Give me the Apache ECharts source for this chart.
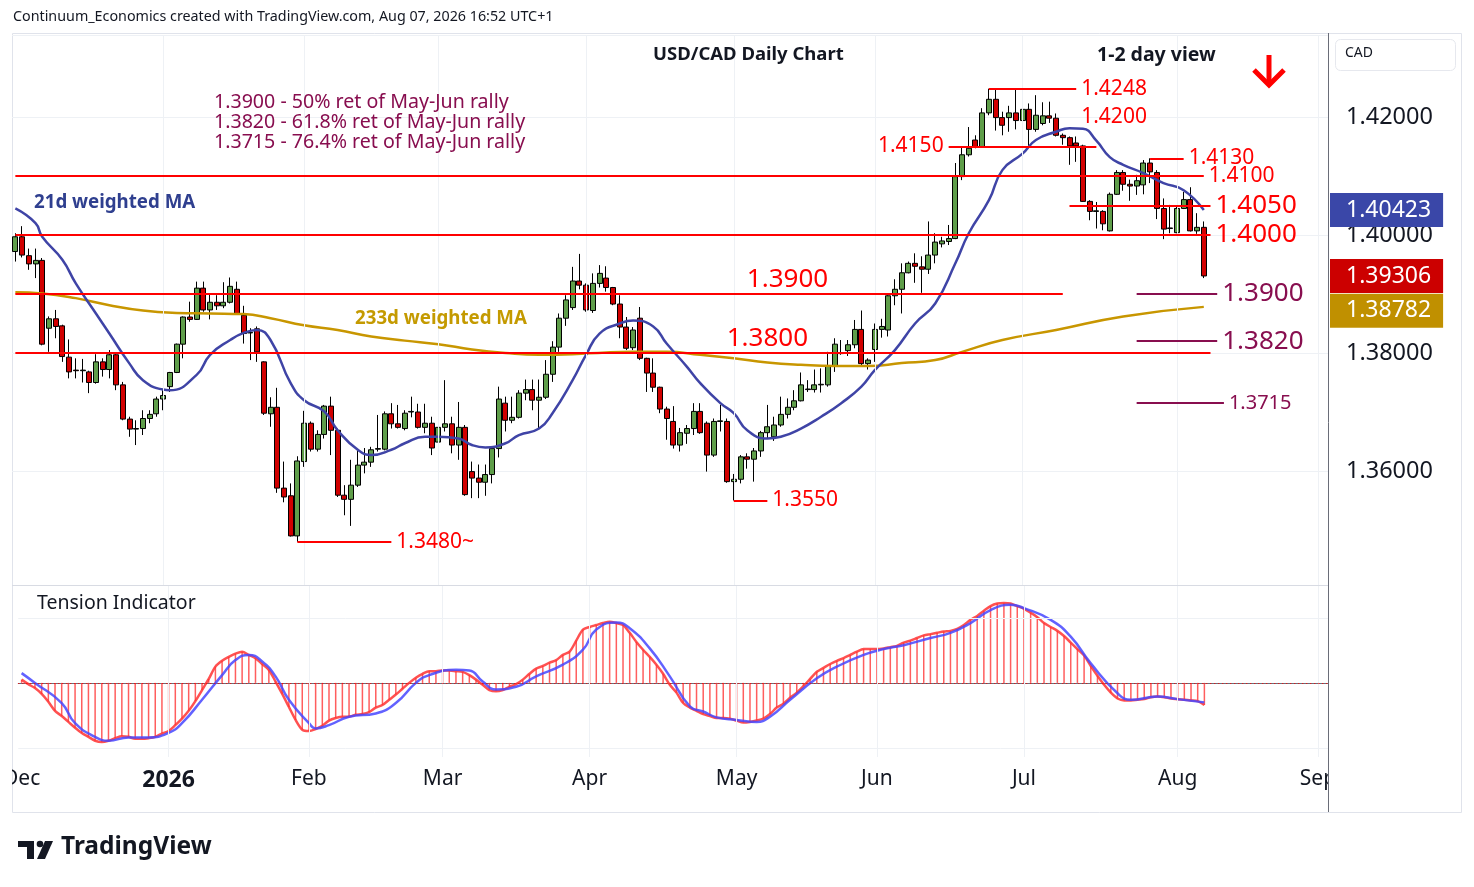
<!DOCTYPE html>
<html>
<head>
<meta charset="utf-8">
<title>USD/CAD Daily Chart</title>
<script src="https://cdn.jsdelivr.net/npm/echarts@6.0.0/dist/echarts.min.js"></script>
<style>
  html, body { margin: 0; padding: 0; background: #fff; }
  #chart { width: 1474px; height: 887px; }
</style>
</head>
<body>
<div id="chart"></div>
<script>
// values

var firstDay = '2025-12-01';
var closedDays = ['2025-12-25', '2026-01-01'];
var futureBars = 18;

// [open, close, low, high], one row per trading day
var ohlc = [
  [1.3972, 1.3997, 1.3955, 1.4003], [1.3997, 1.3966, 1.3962, 1.4015], [1.3965, 1.3951, 1.3941, 1.3977],
  [1.3951, 1.3957, 1.3927, 1.3977], [1.3957, 1.3815, 1.3813, 1.3961], [1.3842, 1.3858, 1.3802, 1.3862],
  [1.3858, 1.3845, 1.3825, 1.3873], [1.3846, 1.3794, 1.3785, 1.3848], [1.3793, 1.3768, 1.3757, 1.3823],
  [1.3771, 1.3770, 1.3757, 1.3791], [1.3770, 1.3771, 1.3750, 1.3790], [1.3768, 1.3750, 1.3732, 1.3770],
  [1.3750, 1.3785, 1.3748, 1.3798], [1.3785, 1.3772, 1.3760, 1.3791], [1.3772, 1.3797, 1.3757, 1.3805],
  [1.3797, 1.3746, 1.3737, 1.3800], [1.3746, 1.3688, 1.3686, 1.3751], [1.3688, 1.3671, 1.3658, 1.3692],
  [1.3672, 1.3671, 1.3644, 1.3686], [1.3672, 1.3689, 1.3661, 1.3703], [1.3689, 1.3696, 1.3681, 1.3703],
  [1.3697, 1.3722, 1.3692, 1.3726], [1.3722, 1.3728, 1.3703, 1.3737], [1.3743, 1.3767, 1.3734, 1.3768],
  [1.3767, 1.3815, 1.3766, 1.3816], [1.3815, 1.3861, 1.3791, 1.3862], [1.3861, 1.3857, 1.3853, 1.3887],
  [1.3857, 1.3910, 1.3856, 1.3921], [1.3910, 1.3873, 1.3870, 1.3921], [1.3873, 1.3886, 1.3857, 1.3899],
  [1.3886, 1.3880, 1.3873, 1.3898], [1.3880, 1.3886, 1.3876, 1.3920], [1.3886, 1.3913, 1.3884, 1.3928],
  [1.3908, 1.3867, 1.3866, 1.3921], [1.3864, 1.3833, 1.3816, 1.3880], [1.3834, 1.3835, 1.3788, 1.3842],
  [1.3841, 1.3802, 1.3785, 1.3845], [1.3785, 1.3698, 1.3695, 1.3786], [1.3697, 1.3708, 1.3675, 1.3725],
  [1.3708, 1.3571, 1.3563, 1.3741], [1.3571, 1.3556, 1.3547, 1.3616], [1.3558, 1.3490, 1.3489, 1.3579],
  [1.3490, 1.3617, 1.3480, 1.3625], [1.3616, 1.3681, 1.3607, 1.3702], [1.3681, 1.3637, 1.3633, 1.3684],
  [1.3637, 1.3662, 1.3633, 1.3669], [1.3662, 1.3710, 1.3655, 1.3712], [1.3710, 1.3669, 1.3627, 1.3726],
  [1.3669, 1.3559, 1.3556, 1.3672], [1.3559, 1.3552, 1.3525, 1.3576], [1.3552, 1.3576, 1.3507, 1.3619],
  [1.3576, 1.3610, 1.3573, 1.3637], [1.3610, 1.3615, 1.3596, 1.3639], [1.3615, 1.3636, 1.3607, 1.3641],
  [1.3637, 1.3638, 1.3633, 1.3695], [1.3637, 1.3697, 1.3635, 1.3701], [1.3697, 1.3680, 1.3672, 1.3715],
  [1.3680, 1.3674, 1.3672, 1.3712], [1.3672, 1.3698, 1.3669, 1.3703], [1.3700, 1.3701, 1.3691, 1.3726],
  [1.3700, 1.3674, 1.3672, 1.3714], [1.3674, 1.3681, 1.3664, 1.3714], [1.3681, 1.3639, 1.3627, 1.3692],
  [1.3649, 1.3674, 1.3633, 1.3720], [1.3674, 1.3680, 1.3667, 1.3754], [1.3680, 1.3644, 1.3630, 1.3692],
  [1.3644, 1.3674, 1.3619, 1.3717], [1.3674, 1.3560, 1.3558, 1.3678], [1.3599, 1.3588, 1.3554, 1.3616],
  [1.3588, 1.3581, 1.3554, 1.3611], [1.3581, 1.3594, 1.3558, 1.3611], [1.3594, 1.3638, 1.3579, 1.3639],
  [1.3638, 1.3722, 1.3623, 1.3743], [1.3715, 1.3686, 1.3667, 1.3726], [1.3686, 1.3691, 1.3681, 1.3726],
  [1.3691, 1.3732, 1.3689, 1.3737], [1.3732, 1.3738, 1.3720, 1.3755], [1.3738, 1.3720, 1.3703, 1.3755],
  [1.3720, 1.3725, 1.3672, 1.3755], [1.3725, 1.3764, 1.3722, 1.3788], [1.3764, 1.3810, 1.3751, 1.3820],
  [1.3810, 1.3859, 1.3802, 1.3867], [1.3859, 1.3890, 1.3846, 1.3898], [1.3877, 1.3922, 1.3873, 1.3946],
  [1.3922, 1.3915, 1.3908, 1.3968], [1.3915, 1.3873, 1.3870, 1.3918], [1.3872, 1.3918, 1.3868, 1.3935],
  [1.3918, 1.3935, 1.3911, 1.3949], [1.3927, 1.3911, 1.3904, 1.3947], [1.3911, 1.3883, 1.3881, 1.3912],
  [1.3883, 1.3844, 1.3825, 1.3898], [1.3844, 1.3808, 1.3805, 1.3861], [1.3809, 1.3839, 1.3805, 1.3844],
  [1.3859, 1.3791, 1.3788, 1.3878], [1.3791, 1.3766, 1.3734, 1.3792], [1.3766, 1.3742, 1.3734, 1.3791],
  [1.3742, 1.3705, 1.3698, 1.3743], [1.3705, 1.3689, 1.3653, 1.3709], [1.3684, 1.3644, 1.3638, 1.3710],
  [1.3644, 1.3665, 1.3633, 1.3673], [1.3664, 1.3672, 1.3646, 1.3678], [1.3672, 1.3701, 1.3661, 1.3715],
  [1.3701, 1.3665, 1.3663, 1.3715], [1.3681, 1.3627, 1.3599, 1.3684], [1.3627, 1.3684, 1.3624, 1.3689],
  [1.3684, 1.3685, 1.3667, 1.3712], [1.3684, 1.3582, 1.3580, 1.3689], [1.3582, 1.3586, 1.3550, 1.3595],
  [1.3586, 1.3624, 1.3579, 1.3627], [1.3624, 1.3620, 1.3604, 1.3630], [1.3620, 1.3634, 1.3582, 1.3639],
  [1.3634, 1.3665, 1.3624, 1.3668], [1.3665, 1.3675, 1.3655, 1.3712], [1.3658, 1.3678, 1.3651, 1.3692],
  [1.3678, 1.3696, 1.3675, 1.3726], [1.3696, 1.3708, 1.3689, 1.3723], [1.3708, 1.3719, 1.3703, 1.3737],
  [1.3719, 1.3746, 1.3718, 1.3767], [1.3738, 1.3739, 1.3734, 1.3754], [1.3738, 1.3746, 1.3733, 1.3772],
  [1.3746, 1.3747, 1.3733, 1.3774], [1.3746, 1.3778, 1.3743, 1.3802], [1.3778, 1.3815, 1.3768, 1.3825],
  [1.3799, 1.3800, 1.3797, 1.3822], [1.3804, 1.3814, 1.3795, 1.3822], [1.3814, 1.3840, 1.3808, 1.3856],
  [1.3840, 1.3782, 1.3778, 1.3872], [1.3782, 1.3788, 1.3772, 1.3791], [1.3806, 1.3840, 1.3785, 1.3850],
  [1.3840, 1.3845, 1.3826, 1.3858], [1.3839, 1.3897, 1.3828, 1.3898], [1.3897, 1.3908, 1.3881, 1.3925],
  [1.3908, 1.3936, 1.3867, 1.3952], [1.3936, 1.3952, 1.3935, 1.3955], [1.3952, 1.3947, 1.3919, 1.3969],
  [1.3946, 1.3942, 1.3902, 1.3964], [1.3942, 1.3966, 1.3934, 1.4023], [1.3966, 1.3988, 1.3952, 1.4003],
  [1.3985, 1.3990, 1.3979, 1.3997], [1.3989, 1.3994, 1.3983, 1.4017], [1.3994, 1.4099, 1.3993, 1.4122],
  [1.4099, 1.4136, 1.4093, 1.4150], [1.4136, 1.4147, 1.4133, 1.4183], [1.4161, 1.4150, 1.4147, 1.4169],
  [1.4150, 1.4207, 1.4149, 1.4215], [1.4207, 1.4230, 1.4203, 1.4248], [1.4230, 1.4199, 1.4177, 1.4247],
  [1.4199, 1.4186, 1.4169, 1.4209], [1.4199, 1.4207, 1.4175, 1.4219], [1.4207, 1.4194, 1.4179, 1.4247],
  [1.4194, 1.4213, 1.4190, 1.4223], [1.4213, 1.4179, 1.4151, 1.4223], [1.4179, 1.4203, 1.4175, 1.4237],
  [1.4189, 1.4202, 1.4186, 1.4225], [1.4202, 1.4198, 1.4190, 1.4226], [1.4198, 1.4169, 1.4167, 1.4206],
  [1.4169, 1.4165, 1.4153, 1.4172], [1.4165, 1.4151, 1.4119, 1.4167], [1.4156, 1.4151, 1.4124, 1.4167],
  [1.4151, 1.4057, 1.4056, 1.4153], [1.4057, 1.4040, 1.4025, 1.4059], [1.4040, 1.4041, 1.4011, 1.4056],
  [1.4040, 1.4019, 1.4008, 1.4042], [1.4007, 1.4069, 1.4006, 1.4072], [1.4069, 1.4106, 1.4068, 1.4110],
  [1.4106, 1.4086, 1.4075, 1.4110], [1.4086, 1.4083, 1.4058, 1.4094], [1.4083, 1.4092, 1.4068, 1.4102],
  [1.4085, 1.4122, 1.4069, 1.4127], [1.4122, 1.4107, 1.4088, 1.4130], [1.4106, 1.4045, 1.4027, 1.4110],
  [1.4045, 1.4010, 1.3993, 1.4062], [1.4011, 1.4012, 1.4003, 1.4051], [1.4004, 1.4045, 1.4003, 1.4048],
  [1.4045, 1.4060, 1.4044, 1.4073], [1.4060, 1.4007, 1.4006, 1.4081], [1.4007, 1.4013, 1.4002, 1.4037],
  [1.4013, 1.39306, 1.3927, 1.4023]
];

// [bar index, value]
var wma21 = [
  [0, 1.4045], [3, 1.4020], [4, 1.3997], [7, 1.3958], [9, 1.3918], [12, 1.3867], [14, 1.3833],
  [17, 1.3782], [19, 1.3754], [22, 1.3738], [23, 1.3737], [27, 1.3763], [29, 1.3797], [32, 1.3822],
  [34, 1.3834], [36, 1.3839], [38, 1.3822], [41, 1.3749], [43, 1.3720], [46, 1.3701], [48, 1.3669],
  [51, 1.3636], [53, 1.3627], [56, 1.3636], [58, 1.3647], [61, 1.3658], [63, 1.3658], [66, 1.3655],
  [68, 1.3644], [70, 1.3640], [73, 1.3647], [75, 1.3661], [78, 1.3672], [80, 1.3698], [83, 1.3754],
  [85, 1.3797], [87, 1.3833], [90, 1.3850], [92, 1.3855], [95, 1.3845], [97, 1.3816], [100, 1.3777],
  [102, 1.3749], [105, 1.3715], [107, 1.3698], [109, 1.3669], [112, 1.3655], [114, 1.3658], [117, 1.3672],
  [120, 1.3692], [123, 1.3715], [126, 1.3743], [128, 1.3771], [131, 1.3805], [134, 1.3850], [137, 1.3884],
  [140, 1.3952], [142, 1.4003], [145, 1.4059], [147, 1.4110], [150, 1.4138], [152, 1.4161], [155, 1.4175],
  [157, 1.4181], [159, 1.4180], [161, 1.4160], [163, 1.4132], [165, 1.4119], [168, 1.4105], [171, 1.4088],
  [174, 1.4076], [177, 1.40423]
];
var wma233 = [
  [0, 1.3903], [4, 1.3901], [9, 1.3893], [14, 1.3881], [19, 1.3872], [24, 1.3868], [29, 1.3867],
  [34, 1.3866], [38, 1.3859], [43, 1.3847], [48, 1.3839], [53, 1.3828], [58, 1.3821], [63, 1.3815],
  [68, 1.3806], [73, 1.3800], [78, 1.3797], [83, 1.3798], [88, 1.3801], [92, 1.3802], [97, 1.3802],
  [102, 1.3797], [107, 1.3791], [112, 1.3784], [117, 1.3780], [122, 1.3778], [127, 1.3778], [132, 1.3783],
  [137, 1.3788], [141, 1.3802], [147, 1.3822], [155, 1.3839], [165, 1.3862], [177, 1.38782]
];

// Tension Indicator: fast line (one value per bar) and slow line ([bar index, value])
var tensionFast = [
  0.05, -0.02, -0.08, -0.17, -0.29, -0.43, -0.51, -0.60, -0.69, -0.77,
  -0.83, -0.89, -0.91, -0.89, -0.85, -0.82, -0.83, -0.86, -0.86, -0.85,
  -0.83, -0.78, -0.74, -0.65, -0.55, -0.43, -0.28, -0.11, 0.06, 0.25,
  0.34, 0.40, 0.45, 0.48, 0.43, 0.38, 0.29, 0.20, 0.02, -0.17,
  -0.37, -0.57, -0.72, -0.74, -0.71, -0.66, -0.58, -0.54, -0.52, -0.52,
  -0.49, -0.48, -0.45, -0.38, -0.34, -0.26, -0.18, -0.09, 0.00, 0.08,
  0.14, 0.18, 0.18, 0.19, 0.19, 0.18, 0.17, 0.12, 0.05, -0.03,
  -0.11, -0.13, -0.11, -0.06, -0.02, 0.05, 0.14, 0.22, 0.26, 0.31,
  0.35, 0.43, 0.48, 0.65, 0.82, 0.86, 0.89, 0.92, 0.94, 0.92,
  0.89, 0.77, 0.63, 0.51, 0.40, 0.28, 0.14, -0.03, -0.15, -0.31,
  -0.38, -0.43, -0.48, -0.51, -0.54, -0.54, -0.55, -0.58, -0.61, -0.60,
  -0.58, -0.55, -0.48, -0.38, -0.32, -0.23, -0.15, -0.05, 0.06, 0.17,
  0.23, 0.29, 0.34, 0.38, 0.43, 0.48, 0.52, 0.52, 0.52, 0.53,
  0.55, 0.57, 0.62, 0.65, 0.69, 0.73, 0.75, 0.77, 0.79, 0.80,
  0.83, 0.89, 0.97, 1.03, 1.11, 1.18, 1.22, 1.23, 1.22, 1.18,
  1.14, 1.08, 1.01, 0.92, 0.86, 0.80, 0.72, 0.62, 0.52, 0.42,
  0.26, 0.11, -0.03, -0.15, -0.24, -0.27, -0.27, -0.26, -0.25, -0.22,
  -0.21, -0.22, -0.24, -0.25, -0.26, -0.27, -0.28, -0.34
];
var tensionSlow = [
  [0, 0.15], [2, 0.00], [6, -0.31], [8, -0.62], [11, -0.83], [13, -0.89], [16, -0.84], [19, -0.84],
  [22, -0.77], [24, -0.62], [27, -0.26], [30, 0.12], [32, 0.35], [34, 0.43], [36, 0.33], [38, 0.10],
  [40, -0.26], [43, -0.62], [44, -0.70], [46, -0.65], [49, -0.52], [53, -0.47], [56, -0.31], [59, 0.00],
  [61, 0.12], [65, 0.20], [67, 0.19], [69, 0.02], [71, -0.10], [74, -0.06], [77, 0.10], [81, 0.28],
  [84, 0.51], [86, 0.82], [89, 0.93], [91, 0.84], [94, 0.53], [97, 0.10], [100, -0.36], [102, -0.44],
  [104, -0.53], [107, -0.57], [110, -0.60], [112, -0.52], [115, -0.26], [119, 0.07], [122, 0.25],
  [126, 0.43], [129, 0.52], [132, 0.58], [136, 0.69], [139, 0.77], [142, 0.92], [145, 1.12], [148, 1.20],
  [150, 1.15], [154, 0.97], [157, 0.71], [160, 0.30], [164, -0.16], [166, -0.26], [170, -0.21],
  [173, -0.25], [177, -0.30]
];

var levelPrices = [1.4248, 1.4200, 1.4150, 1.4130, 1.4100, 1.4050, 1.4000, 1.3900, 1.3800, 1.3550, 1.3480];
var retraceLevels = [1.3900, 1.3820, 1.3715];
var retraceShares = ['50%', '61.8%', '76.4%'];

// ---------------------------------------------------------------

var FONT = "'Noto Sans', 'DejaVu Sans', sans-serif";
var RED = '#ff0000';
var PURPLE = '#880e4f';
var INK = '#131722';
var GRID = '#eef1f5';
var CLEAR = 'rgba(0,0,0,0)';

function pad(n) { return n < 10 ? '0' + n : '' + n; }
function ymd(d) { return d.getUTCFullYear() + '-' + pad(d.getUTCMonth() + 1) + '-' + pad(d.getUTCDate()); }

// trading-day categories (weekdays, market holidays left out), plus empty days ahead
var dates = [];
var day = new Date(firstDay + 'T00:00:00Z');
while (dates.length < ohlc.length + futureBars) {
  var wd = day.getUTCDay();
  var s = ymd(day);
  if (wd !== 0 && wd !== 6 && closedDays.indexOf(s) < 0) dates.push(s);
  day.setUTCDate(day.getUTCDate() + 1);
}

var monthStart = {};
dates.forEach(function (s, i) {
  if (i === 0 || s.slice(0, 7) !== dates[i - 1].slice(0, 7)) monthStart[i] = true;
});
var monthNames = ['Jan', 'Feb', 'Mar', 'Apr', 'May', 'Jun', 'Jul', 'Aug', 'Sep', 'Oct', 'Nov', 'Dec'];

var monthLines = [];
Object.keys(monthStart).forEach(function (k) {
  if (+k > 0) monthLines.push({ xAxis: dates[+k] });
});

var lastClose = ohlc[ohlc.length - 1][1];
var lastWma21 = wma21[wma21.length - 1][1];
var lastWma233 = wma233[wma233.length - 1][1];

// horizontal level segment with its label
function seg(price, from, to, opts) {
  var color = opts.color || RED;
  return [
    {
      coord: [from, price],
      lineStyle: { color: opts.hidden ? CLEAR : color, width: 2, type: 'solid' },
      label: {
        show: !!opts.pos,
        position: opts.pos || 'end',
        distance: 5,
        formatter: opts.text || price.toFixed(4),
        color: color,
        fontSize: opts.size || 21,
        fontFamily: FONT
      }
    },
    { coord: [to, price] }
  ];
}

var L = levelPrices;
var levelLines = [
  seg(L[0], 145, 158, { pos: 'end' }),
  seg(L[1], 145, 158, { pos: 'end', hidden: true }),
  seg(L[2], 139, 161, { pos: 'start' }),
  seg(L[3], 169, 174, { pos: 'end' }),
  seg(L[4], 0, 177, { pos: 'end' }),
  seg(L[5], 157, 178, { pos: 'end', size: 26 }),
  seg(L[6], 0, 178, { pos: 'end', size: 26 }),
  seg(L[7], 0, 156, {}),
  seg(L[8], 0, 178, {}),
  seg(L[9], 107, 112, { pos: 'end' }),
  seg(L[10], 42, 56, { pos: 'end', text: L[10].toFixed(4) + '~' }),
  seg(retraceLevels[0], 167, 179, { pos: 'end', size: 26, color: PURPLE }),
  seg(retraceLevels[1], 167, 179, { pos: 'end', size: 26, color: PURPLE }),
  seg(retraceLevels[2], 167, 180, { pos: 'end', size: 20, color: PURPLE })
];

function midLabel(price, idx) {
  return {
    coord: [idx, price],
    symbol: 'circle',
    symbolSize: 1,
    itemStyle: { color: CLEAR },
    label: {
      show: true, position: 'top', distance: 1,
      formatter: price.toFixed(4), color: RED, fontSize: 26, fontFamily: FONT
    }
  };
}

// coloured value tag on the price scale
function priceTag(value, bg, nudge) {
  return {
    silent: true,
    precision: 5,
    symbol: ['none', 'none'],
    lineStyle: { color: CLEAR, width: 1 },
    label: {
      show: true, position: 'end', distance: 2,
      offset: [0, nudge || 0],
      formatter: value.toFixed(5),
      color: '#ffffff', backgroundColor: bg,
      padding: [6, 12, 4, 16], fontSize: 23, lineHeight: 24, fontFamily: FONT
    },
    data: [{ yAxis: value }]
  };
}

var notes = retraceLevels.map(function (p, i) {
  return {
    type: 'text', left: 214, top: 92 + i * 20, z: 10,
    style: {
      text: p.toFixed(4) + ' - ' + retraceShares[i] + ' ret of May-Jun rally',
      fill: PURPLE, font: '19.6px ' + FONT
    }
  };
});

var myChart = echarts.init(document.getElementById('chart'));

var option = {
  animation: false,
  backgroundColor: '#ffffff',
  grid: [
    { left: 12, right: 146, top: 35, height: 550 },
    { left: 12, right: 146, top: 586, height: 171 }
  ],
  xAxis: [{
    type: 'category', gridIndex: 0, data: dates, boundaryGap: true,
    axisLine: { show: false }, axisTick: { show: false }, axisLabel: { show: false },
    splitLine: { show: false }
  }, {
    type: 'category', gridIndex: 1, data: dates, boundaryGap: true,
    axisLine: { show: true, lineStyle: { color: '#6a6d78', width: 1 } },
    axisTick: { show: false },
    splitLine: { show: false },
    axisLabel: {
      interval: function (i) { return !!monthStart[i]; },
      margin: 12, fontSize: 21, color: INK, fontFamily: FONT,
      formatter: function (v) {
        var m = +v.slice(5, 7);
        return m === 1 ? '{y|' + v.slice(0, 4) + '}' : monthNames[m - 1];
      },
      rich: { y: { fontSize: 23, fontWeight: 'bold', color: INK, fontFamily: FONT } }
    }
  }],
  yAxis: [{
    type: 'value', gridIndex: 0, position: 'right',
    min: 1.34068, max: 1.43390, splitNumber: 5,
    axisLine: { show: false }, axisTick: { show: false },
    axisLabel: {
      showMinLabel: false, showMaxLabel: false, margin: 18,
      fontSize: 23.5, color: INK, fontFamily: FONT,
      formatter: function (v) { return v.toFixed(5); }
    },
    splitLine: { lineStyle: { color: GRID, width: 1 } }
  }, {
    type: 'value', gridIndex: 1, position: 'right', min: -1.14, max: 1.49,
    axisLine: { show: false }, axisTick: { show: false }, axisLabel: { show: false },
    splitLine: { show: false }
  }],
  series: [
    {
      // month gridlines in the price pane
      type: 'line', data: [], xAxisIndex: 0, yAxisIndex: 0, z: 1,
      markLine: { silent: true, symbol: ['none', 'none'], label: { show: false },
        lineStyle: { color: GRID, width: 1, type: 'solid' }, data: monthLines }
    },
    {
      type: 'candlestick', name: 'USD/CAD', data: ohlc, xAxisIndex: 0, yAxisIndex: 0,
      barWidth: 5.5, z: 2,
      itemStyle: {
        color: '#5f9e4a', color0: '#d10000',
        borderColor: '#000000', borderColor0: '#000000', borderWidth: 1
      },
      markLine: priceTag(lastClose, '#cc0000')
    },
    {
      type: 'line', name: '233d weighted MA', data: wma233, xAxisIndex: 0, yAxisIndex: 0,
      smooth: true, showSymbol: false, z: 3,
      lineStyle: { color: '#c89600', width: 2.5 },
      // pushed below the price tag, as the price scale does to avoid overlap
      markLine: priceTag(lastWma233, '#c09000', 4)
    },
    {
      type: 'line', name: '21d weighted MA', data: wma21, xAxisIndex: 0, yAxisIndex: 0,
      smooth: true, showSymbol: false, z: 3,
      lineStyle: { color: '#3f44a6', width: 2.5 },
      markLine: priceTag(lastWma21, '#3a47a8')
    },
    {
      // support / resistance levels
      type: 'line', data: [], xAxisIndex: 0, yAxisIndex: 0, z: 4,
      markLine: { silent: true, precision: 4, symbol: ['none', 'none'], data: levelLines },
      markPoint: { silent: true, data: [midLabel(L[7], 115), midLabel(L[8], 112)] }
    },
    {
      // tension pane gridlines
      type: 'line', data: [], xAxisIndex: 1, yAxisIndex: 1, z: 1,
      markLine: {
        silent: true, symbol: ['none', 'none'], label: { show: false },
        lineStyle: { color: GRID, width: 1, type: 'solid' },
        data: monthLines.concat([{ yAxis: 1 }, { yAxis: -1 }])
      }
    },
    {
      type: 'bar', name: 'Tension', data: tensionFast, xAxisIndex: 1, yAxisIndex: 1,
      barWidth: 1.5, z: 2,
      itemStyle: { color: 'rgba(255,40,40,0.75)' },
      markLine: {
        silent: true, symbol: ['none', 'none'], label: { show: false },
        lineStyle: { color: RED, width: 1, type: [1, 3] },
        data: [{ yAxis: 0 }]
      }
    },
    {
      type: 'line', name: 'Tension fast', data: tensionFast, xAxisIndex: 1, yAxisIndex: 1,
      smooth: 0.3, showSymbol: false, z: 3,
      lineStyle: { color: 'rgba(255,50,50,0.85)', width: 2.5 }
    },
    {
      type: 'line', name: 'Tension slow', data: tensionSlow, xAxisIndex: 1, yAxisIndex: 1,
      smooth: true, showSymbol: false, z: 4,
      lineStyle: { color: 'rgba(70,70,255,0.85)', width: 2.5 }
    }
  ],
  graphic: [
    // frame and pane dividers
    { type: 'rect', z: 0, shape: { x: 12.5, y: 33.5, width: 1449, height: 779 },
      style: { fill: 'none', stroke: '#e0e3eb', lineWidth: 1 } },
    { type: 'line', z: 5, shape: { x1: 1328.5, y1: 33, x2: 1328.5, y2: 812 },
      style: { stroke: '#6a6d78', lineWidth: 1 } },
    { type: 'line', z: 5, shape: { x1: 12, y1: 585.5, x2: 1328, y2: 585.5 },
      style: { stroke: '#d8dbe3', lineWidth: 1 } },
    // clip the month labels at the pane edges
    { type: 'rect', z: 50, shape: { x: 0, y: 759, width: 12, height: 48 }, style: { fill: '#fff' } },
    { type: 'rect', z: 50, shape: { x: 1329, y: 759, width: 132, height: 48 }, style: { fill: '#fff' } },
    // header
    { type: 'text', left: 13, top: 10, z: 10,
      style: { text: 'Continuum_Economics created with TradingView.com, Aug 07, 2026 16:52 UTC+1',
        fill: INK, font: '14.3px ' + FONT } },
    { type: 'text', left: 653, top: 45, z: 10,
      style: { text: 'USD/CAD Daily Chart', fill: INK, font: 'bold 18.5px ' + FONT } },
    { type: 'text', left: 1097, top: 45, z: 10,
      style: { text: '1-2 day view', fill: INK, font: 'bold 19.5px ' + FONT } },
    { type: 'polyline', z: 10, shape: { points: [[1269, 55], [1269, 84]] },
      style: { stroke: RED, lineWidth: 5, fill: 'none' } },
    { type: 'polyline', z: 10, shape: { points: [[1254, 70], [1269, 85], [1284, 70]] },
      style: { stroke: RED, lineWidth: 5, fill: 'none', lineJoin: 'miter' } },
    // price-scale currency box
    { type: 'rect', z: 10, shape: { x: 1335.5, y: 39.5, width: 120, height: 31, r: 5 },
      style: { fill: '#fff', stroke: '#e6e8ee', lineWidth: 1 } },
    { type: 'text', left: 1345, top: 46, z: 11,
      style: { text: 'CAD', fill: INK, font: '14px ' + FONT } },
    // indicator captions
    { type: 'text', left: 34, top: 193, z: 10,
      style: { text: '21d weighted MA', fill: '#2f3f8f', font: 'bold 18.7px ' + FONT } },
    { type: 'text', left: 355, top: 309, z: 10,
      style: { text: '233d weighted MA', fill: '#c49a00', font: 'bold 18.7px ' + FONT } },
    { type: 'text', left: 37, top: 593, z: 10,
      style: { text: 'Tension Indicator', fill: INK, font: '19.5px ' + FONT } },
    // TradingView mark
    { type: 'rect', z: 10, shape: { x: 18, y: 841, width: 16, height: 6 }, style: { fill: INK } },
    { type: 'rect', z: 10, shape: { x: 27, y: 841, width: 7, height: 18 }, style: { fill: INK } },
    { type: 'circle', z: 10, shape: { cx: 40, cy: 844, r: 3.3 }, style: { fill: INK } },
    { type: 'polygon', z: 10, shape: { points: [[45, 841], [53, 841], [45, 859], [37, 859]] },
      style: { fill: INK } },
    { type: 'text', left: 61, top: 835, z: 10,
      style: { text: 'TradingView', fill: INK, font: 'bold 24.5px ' + FONT } }
  ].concat(notes)
};

myChart.setOption(option);
</script>
</body>
</html>
